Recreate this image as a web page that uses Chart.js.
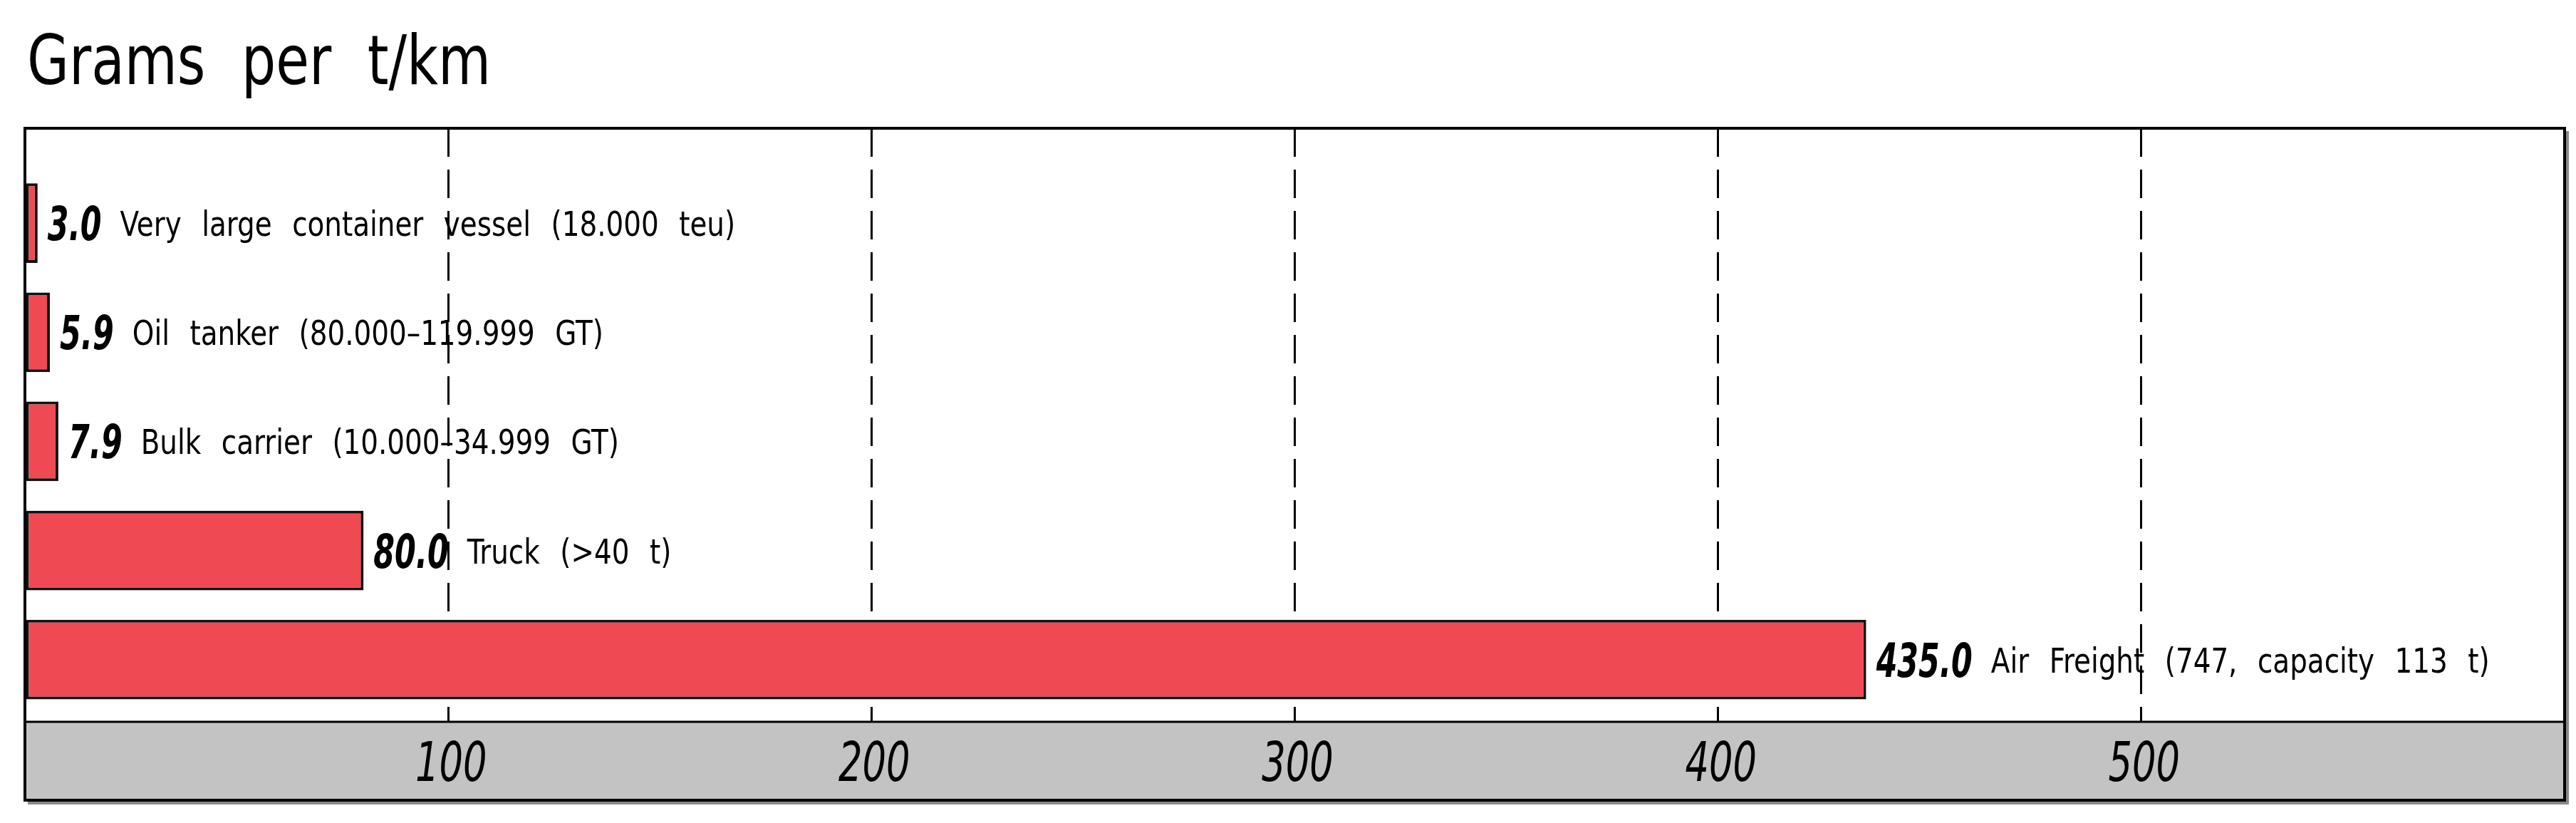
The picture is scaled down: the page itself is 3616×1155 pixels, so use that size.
<!DOCTYPE html>
<html>
<head>
<meta charset="utf-8">
<script src="https://cdn.jsdelivr.net/npm/chart.js@4.4.1/dist/chart.umd.min.js"></script>
<style>
  html, body { margin: 0; padding: 0; background: #fff; }
  canvas { display: block; }
</style>
</head>
<body>
<canvas id="chart" width="3616" height="1155"></canvas>
<script>
'use strict';

const title = 'Grams per t/km';
const categories = [
  'Very large container vessel (18.000 teu)',
  'Oil tanker (80.000\u2013119.999 GT)',
  'Bulk carrier (10.000\u201334.999 GT)',
  'Truck (>40 t)',
  'Air Freight (747, capacity 113 t)',
];
const values = [3.0, 5.9, 7.9, 80.0, 435.0];
const xTicks = [100, 200, 300, 400, 500];

const narrow = "'DejaVu Sans Condensed', 'DejaVu Sans', sans-serif";

// the reference uses a narrow CAD-like font, so squeeze the text horizontally
function squeezeText(ctx, text, x, y, font, sx, ws) {
  ctx.save();
  ctx.translate(x, y);
  ctx.scale(sx, 1);
  ctx.font = font;
  ctx.wordSpacing = ws + 'px';
  ctx.fillText(text, 0, 0);
  const w = ctx.measureText(text).width * sx;
  ctx.restore();
  return w;
}

const framePlugin = {
  id: 'frame',
  beforeDraw(chart) {
    const { ctx, chartArea } = chart;
    const xs = chart.scales.x;
    ctx.save();
    ctx.fillStyle = '#c3c3c3';
    ctx.fillRect(chartArea.left, chartArea.bottom, chartArea.right - chartArea.left, xs.bottom - chartArea.bottom);
    ctx.restore();
  },
  afterDatasetsDraw(chart) {
    const { ctx } = chart;
    const bars = chart.getDatasetMeta(0).data;
    ctx.save();
    ctx.fillStyle = '#000';
    ctx.textAlign = 'left';
    ctx.textBaseline = 'alphabetic';
    bars.forEach((bar, i) => {
      const x = bar.x + 14;
      const w = squeezeText(ctx, values[i].toFixed(1), x, bar.y + 24, `italic bold 66px ${narrow}`, 0.72, 0);
      squeezeText(ctx, categories[i], x + w + 26, bar.y + 18, `48px ${narrow}`, 0.9, 18);
    });
    ctx.restore();
  },
  afterDraw(chart) {
    const { ctx, chartArea } = chart;
    const xs = chart.scales.x;
    ctx.save();
    ctx.fillStyle = '#000';
    ctx.textBaseline = 'alphabetic';
    squeezeText(ctx, title, chartArea.left + 3, 118, `96px ${narrow}`, 0.88, 30);

    // tick labels, placed with the x scale
    const mid = (chartArea.bottom + xs.bottom) / 2;
    const tickFont = `italic 77px ${narrow}`;
    xTicks.forEach(v => {
      const px = xs.getPixelForValue(v);
      ctx.save();
      ctx.font = tickFont;
      const w = ctx.measureText(String(v)).width * 0.76;
      ctx.restore();
      squeezeText(ctx, String(v), px - w / 2 + 4, mid + 28, tickFont, 0.76, 0);
    });

    ctx.strokeStyle = '#888';
    ctx.lineWidth = 4;
    ctx.beginPath();
    ctx.moveTo(chartArea.right + 4, chartArea.top + 4);
    ctx.lineTo(chartArea.right + 4, xs.bottom + 4);
    ctx.lineTo(chartArea.left + 4, xs.bottom + 4);
    ctx.stroke();
    ctx.strokeStyle = '#000';
    ctx.strokeRect(chartArea.left, chartArea.top, chartArea.right - chartArea.left, xs.bottom - chartArea.top);
    ctx.lineWidth = 3;
    ctx.beginPath();
    ctx.moveTo(chartArea.left, chartArea.bottom);
    ctx.lineTo(chartArea.right, chartArea.bottom);
    ctx.stroke();
    ctx.restore();
  },
};

const ctx = document.getElementById('chart').getContext('2d');

new Chart(ctx, {
  type: 'bar',
  data: {
    datasets: [
      {
        data: values.map((v, i) => ({ x: v, y: i })),
        backgroundColor: '#ef4a53',
        borderColor: '#111',
        borderWidth: 4,
        borderSkipped: false,
        categoryPercentage: 1,
        barPercentage: 0.73,
      },
    ],
  },
  options: {
    indexAxis: 'y',
    responsive: false,
    animation: false,
    devicePixelRatio: 1,
    layout: { padding: { top: 180, left: 35, right: 16, bottom: 32 } },
    plugins: {
      legend: { display: false },
      tooltip: { enabled: false },
    },
    scales: {
      x: {
        type: 'linear',
        min: 0,
        max: 600,
        afterFit(scale) { scale.height = 110; },
        afterBuildTicks(scale) {
          scale.ticks = [0, ...xTicks, 600].map(v => ({ value: v }));
        },
        ticks: { display: false },
        grid: { color: '#000', lineWidth: 3, drawTicks: false },
        border: { display: false, dash: [40, 18] },
      },
      y: {
        type: 'linear',
        display: false,
        reverse: true,
        offset: false,
        bounds: 'data',
        grace: 0,
        afterDataLimits(scale) {
          scale.min = -0.87;
          scale.max = 4.57;
        },
        afterBuildTicks(scale) {
          scale.ticks = categories.map((c, i) => ({ value: i }));
        },
      },
    },
  },
  plugins: [framePlugin],
});
</script>
</body>
</html>
